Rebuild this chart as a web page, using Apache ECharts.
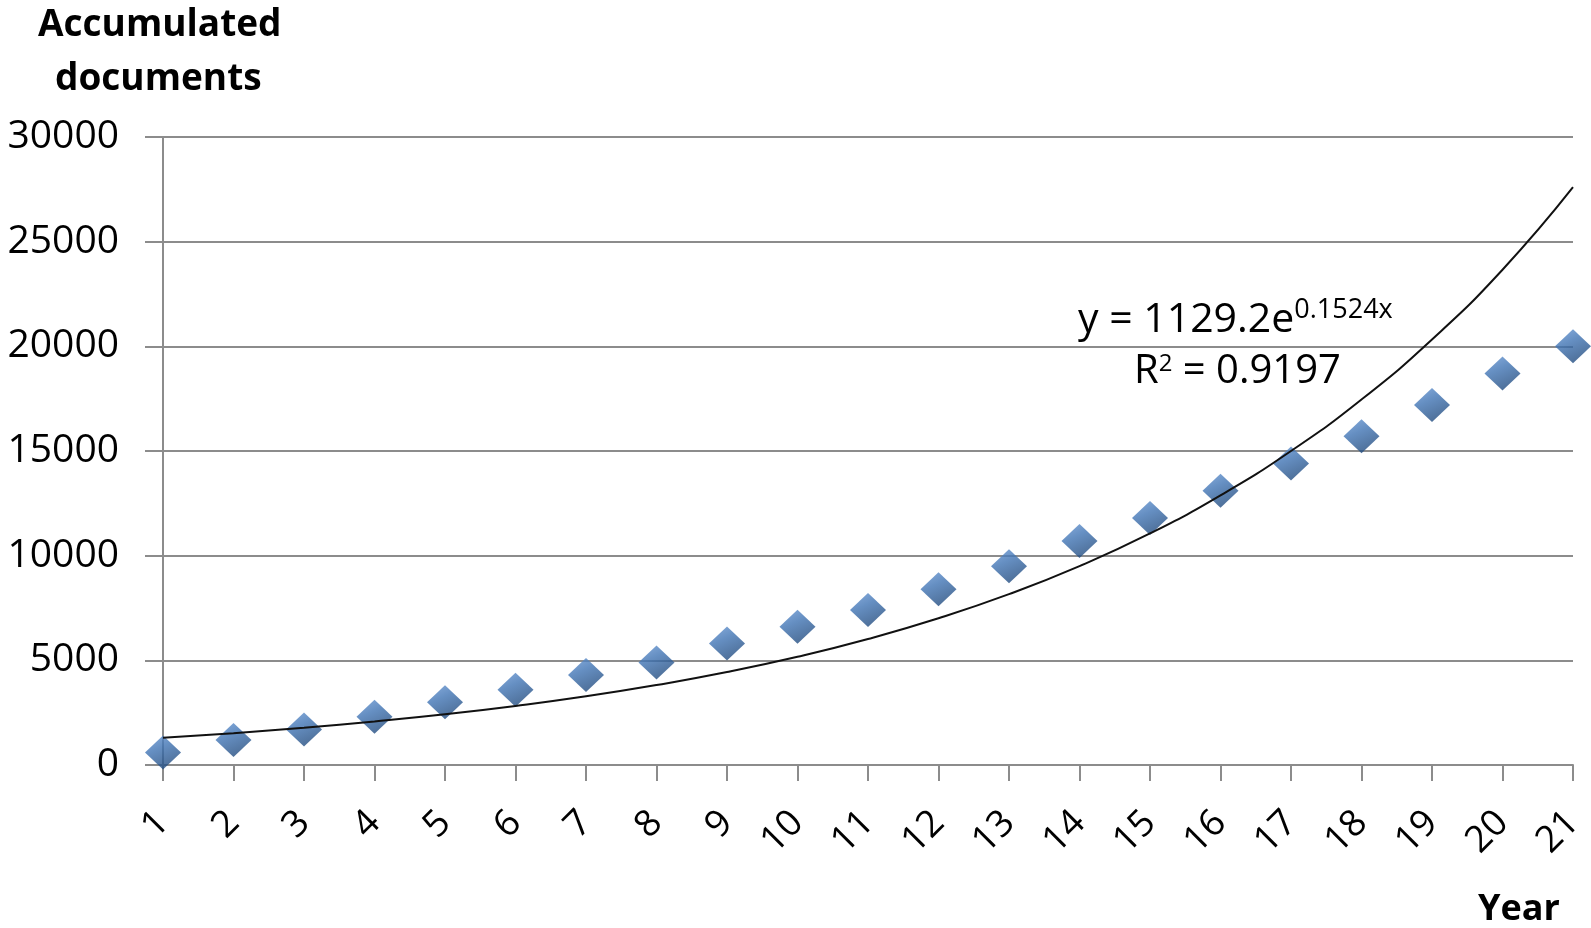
<!DOCTYPE html>
<html><head><meta charset="utf-8">
<script src="https://cdn.jsdelivr.net/npm/echarts@6/dist/echarts.min.js"></script>
<style>html,body{margin:0;padding:0;background:#fff}#c{width:1591px;height:928px}</style>
</head><body><div id="c"></div>
<script>
const years = ['1','2','3','4','5','6','7','8','9','10','11','12','13','14','15','16','17','18','19','20','21'];
const accumulated = [600,1200,1700,2300,3000,3600,4300,4900,5800,6600,7400,8400,9500,10700,11800,13100,14400,15700,17200,18700,20000];
const trend = [1300,1520,1780,2080,2420,2820,3280,3820,4440,5170,6020,7010,8160,9500,11060,12880,15000,17460,20330,23660,27600];
const yTicks = [0,5000,10000,15000,20000,25000,30000];
const yAxisName = ['Accumulated', 'documents'];
const xAxisName = 'Year';
const equation = ['y = 1129.2e', '0.1524x'];
const rSquared = ['R', '2', ' = 0.9197'];

const FONT = '"Open Sans", "Liberation Sans", sans-serif';
const GRAY = '#8c8c8c';
const chart = echarts.init(document.getElementById('c'));
chart.setOption({
  animation: false,
  backgroundColor: '#fff',
  grid: {left: 163, right: 18, top: 137, bottom: 163, containLabel: false},
  xAxis: {
    type: 'category', data: years, boundaryGap: false,
    axisLine: {lineStyle: {color: GRAY, width: 2}},
    axisTick: {show: true, length: 16, inside: false, lineStyle: {color: GRAY, width: 2}},
    axisLabel: {rotate: 45, margin: 52, fontSize: 37, color: '#000', fontFamily: FONT, interval: 0},
    splitLine: {show: false}
  },
  yAxis: {
    type: 'value', min: yTicks[0], max: yTicks[yTicks.length-1], interval: yTicks[1]-yTicks[0],
    axisLine: {show: true, lineStyle: {color: GRAY, width: 2}},
    axisTick: {show: true, length: 18, lineStyle: {color: GRAY, width: 2}},
    axisLabel: {margin: 44, fontSize: 39, color: '#000', fontFamily: FONT, formatter: v => String(v)},
    splitLine: {show: true, lineStyle: {color: GRAY, width: 2}}
  },
  series: [
    {
      type: 'scatter', data: accumulated, symbol: 'diamond', symbolSize: [36, 34], z: 2,
      itemStyle: {
        color: {type: 'linear', x: 0, y: 0, x2: 0.5, y2: 1, colorStops: [
          {offset: 0, color: '#6c9ad6'}, {offset: 0.45, color: '#3f73b3'}, {offset: 1, color: '#224c80'}]}
      }
    },
    {
      type: 'line', data: trend, smooth: true, showSymbol: false, z: 3,
      lineStyle: {color: '#111', width: 2}
    }
  ],
  graphic: [
    {type: 'text', left: 38, top: 7, style: {text: yAxisName[0], font: 'bold 37px ' + FONT, fill: '#000'}},
    {type: 'text', left: 55, top: 61, style: {text: yAxisName[1], font: 'bold 37px ' + FONT, fill: '#000'}},
    {type: 'text', left: 1478, top: 892, style: {text: xAxisName, font: 'bold 36px ' + FONT, fill: '#000'}},
    {type: 'text', left: 1078, top: 297, style: {
      text: '{a|' + equation[0] + '}{s|' + equation[1] + '}',
      rich: {a: {fontSize: 41, fontFamily: FONT, fill: '#000', verticalAlign: 'bottom'},
             s: {fontSize: 27, fontFamily: FONT, fill: '#000', verticalAlign: 'top', padding: [0,0,17,0]}}
    }},
    {type: 'text', left: 1134, top: 352, style: {
      text: '{a|' + rSquared[0] + '}{s|' + rSquared[1] + '}{a|' + rSquared[2] + '}',
      rich: {a: {fontSize: 40, fontFamily: FONT, fill: '#000', verticalAlign: 'bottom'},
             s: {fontSize: 24, fontFamily: FONT, fill: '#000', verticalAlign: 'top', padding: [0,0,16,0]}}
    }}
  ]
});
</script></body></html>
